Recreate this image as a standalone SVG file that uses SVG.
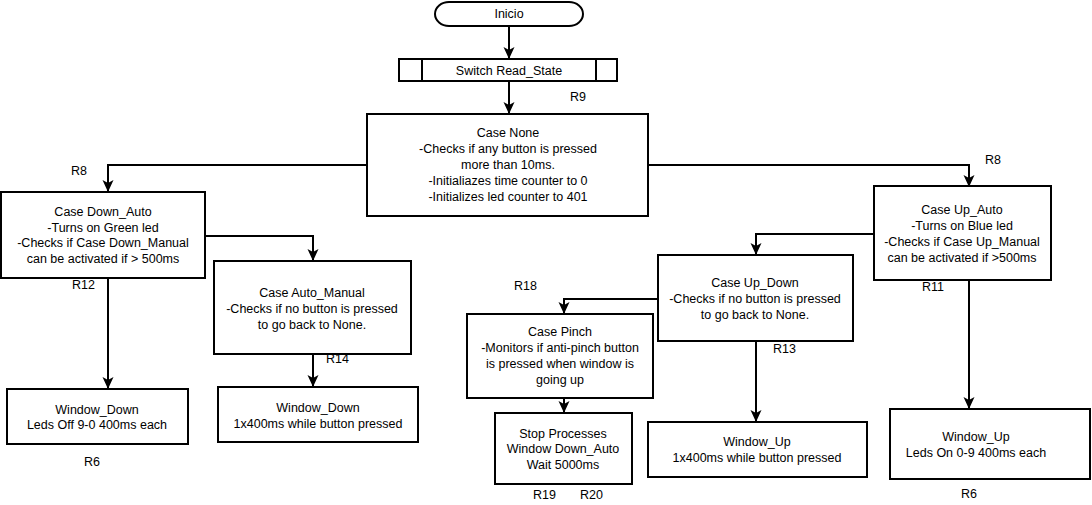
<svg xmlns="http://www.w3.org/2000/svg" width="1092" height="505" viewBox="0 0 1092 505">
<style>
.box{fill:#fff;stroke:#000;stroke-width:2}
.t{font-family:"Liberation Sans",Arial,sans-serif;font-size:12.5px;fill:#000;text-anchor:middle}
.l{font-family:"Liberation Sans",Arial,sans-serif;font-size:12.5px;fill:#000}
.c{fill:none;stroke:#000;stroke-width:2}
</style>
<defs>
<marker id="ah" markerWidth="12" markerHeight="12" refX="11" refY="6" orient="auto" markerUnits="userSpaceOnUse">
<path d="M0,0.5 L12,6 L0,11.5 L3,6 Z" fill="#000"/>
</marker>
</defs>
<rect width="1092" height="505" fill="#fff"/>
<g id="connectors">
<path class="c" d="M509,26 V58" marker-end="url(#ah)"/>
<path class="c" d="M509,81 V113" marker-end="url(#ah)"/>
<path class="c" d="M367,165 H108 V191" marker-end="url(#ah)"/>
<path class="c" d="M648,165 H969 V186" marker-end="url(#ah)"/>
<path class="c" d="M205,236 H313 V260" marker-end="url(#ah)"/>
<path class="c" d="M108,278 V388" marker-end="url(#ah)"/>
<path class="c" d="M313,354 V386" marker-end="url(#ah)"/>
<path class="c" d="M874,234 H756 V254" marker-end="url(#ah)"/>
<path class="c" d="M658,299 H564 V313" marker-end="url(#ah)"/>
<path class="c" d="M564,398 V412" marker-end="url(#ah)"/>
<path class="c" d="M756,341 V421" marker-end="url(#ah)"/>
<path class="c" d="M969,280 V408" marker-end="url(#ah)"/>
</g>
<g id="inicio">
<rect class="box" x="435" y="2" width="148" height="24" rx="14" ry="12"/>
<text class="t" x="509" y="18">Inicio</text>
</g>
<g id="switch">
<rect class="box" x="399" y="59" width="218" height="22"/>
<line class="c" x1="422" y1="59" x2="422" y2="81"/>
<line class="c" x1="596" y1="59" x2="596" y2="81"/>
<text class="t" x="509" y="75">Switch Read_State</text>
</g>
<g id="case-none">
<rect class="box" x="367" y="114" width="281" height="102"/>
<text class="t" x="508" y="137">Case None</text>
<text class="t" x="508" y="153">-Checks if any button is pressed</text>
<text class="t" x="508" y="169">more than 10ms.</text>
<text class="t" x="508" y="185">-Initialiazes time counter to 0</text>
<text class="t" x="508" y="201">-Initializes led counter to 401</text>
</g>
<g id="down-auto">
<rect class="box" x="1" y="192" width="204" height="86"/>
<text class="t" x="103" y="216">Case Down_Auto</text>
<text class="t" x="103" y="232">-Turns on Green led</text>
<text class="t" x="103" y="247">-Checks if Case Down_Manual</text>
<text class="t" x="103" y="263">can be activated if &gt; 500ms</text>
</g>
<g id="auto-manual">
<rect class="box" x="214" y="261" width="197" height="93"/>
<text class="t" x="312" y="297">Case Auto_Manual</text>
<text class="t" x="312" y="313">-Checks if no button is pressed</text>
<text class="t" x="312" y="329">to go back to None.</text>
</g>
<g id="window-down-1">
<rect class="box" x="7" y="389" width="181" height="55"/>
<text class="t" x="97" y="414">Window_Down</text>
<text class="t" x="97" y="429">Leds Off 9-0 400ms each</text>
</g>
<g id="window-down-2">
<rect class="box" x="218" y="387" width="200" height="55"/>
<text class="t" x="318" y="412">Window_Down</text>
<text class="t" x="318" y="428">1x400ms while button pressed</text>
</g>
<g id="up-auto">
<rect class="box" x="874" y="186" width="177" height="94"/>
<text class="t" x="962" y="214">Case Up_Auto</text>
<text class="t" x="962" y="230">-Turns on Blue led</text>
<text class="t" x="962" y="246">-Checks if Case Up_Manual</text>
<text class="t" x="962" y="262">can be activated if &gt;500ms</text>
</g>
<g id="up-down">
<rect class="box" x="658" y="255" width="195" height="86"/>
<text class="t" x="755" y="287">Case Up_Down</text>
<text class="t" x="755" y="303">-Checks if no button is pressed</text>
<text class="t" x="755" y="319">to go back to None.</text>
</g>
<g id="pinch">
<rect class="box" x="467" y="314" width="186" height="84"/>
<text class="t" x="560" y="336">Case Pinch</text>
<text class="t" x="560" y="352">-Monitors if anti-pinch button</text>
<text class="t" x="560" y="368">is pressed when window is</text>
<text class="t" x="560" y="384">going up</text>
</g>
<g id="stop">
<rect class="box" x="495" y="413" width="137" height="71"/>
<text class="t" x="563" y="438">Stop Processes</text>
<text class="t" x="563" y="453">Window Down_Auto</text>
<text class="t" x="563" y="469">Wait 5000ms</text>
</g>
<g id="window-up-1">
<rect class="box" x="648" y="422" width="219" height="55"/>
<text class="t" x="757" y="446">Window_Up</text>
<text class="t" x="757" y="462">1x400ms while button pressed</text>
</g>
<g id="window-up-2">
<rect class="box" x="890" y="409" width="200" height="70"/>
<text class="t" x="976" y="441">Window_Up</text>
<text class="t" x="976" y="457">Leds On 0-9 400ms each</text>
</g>
<g id="labels">
<text class="l" x="570" y="101">R9</text>
<text class="l" x="71" y="175">R8</text>
<text class="l" x="985" y="164">R8</text>
<text class="l" x="72" y="289">R12</text>
<text class="l" x="326" y="363">R14</text>
<text class="l" x="84" y="466">R6</text>
<text class="l" x="514" y="290">R18</text>
<text class="l" x="773" y="353">R13</text>
<text class="l" x="533" y="499">R19</text>
<text class="l" x="580" y="499">R20</text>
<text class="l" x="922" y="291">R11</text>
<text class="l" x="961" y="498">R6</text>
</g>
</svg>
